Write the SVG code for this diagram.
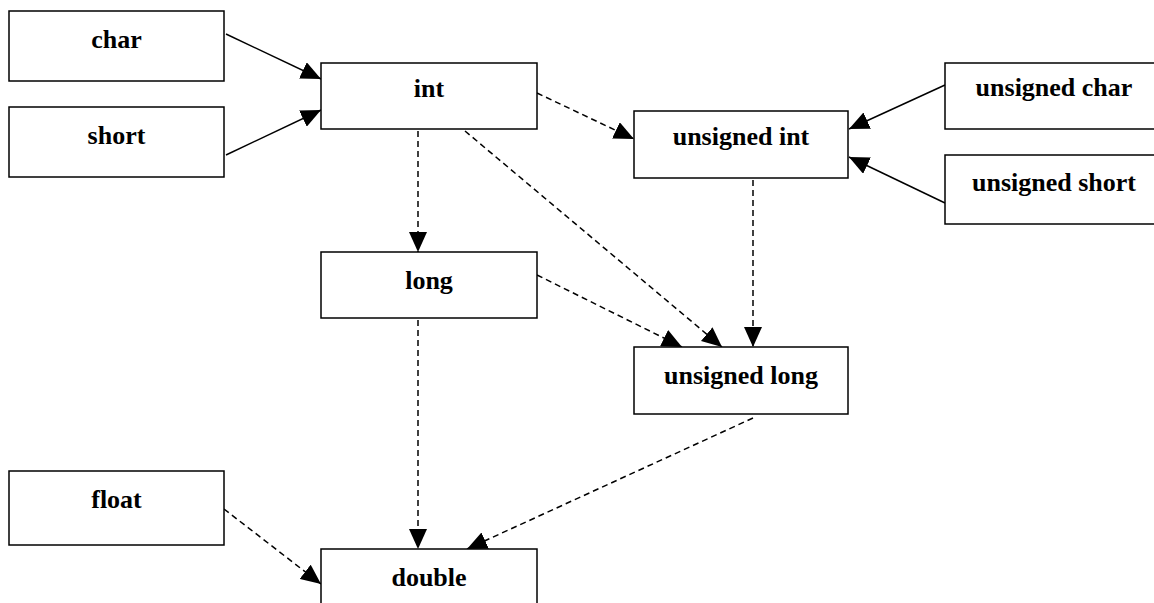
<svg xmlns="http://www.w3.org/2000/svg" width="1154" height="603" viewBox="0 0 1154 603">
<style>
.box{fill:#fff;stroke:#000;stroke-width:1.5}
.t{font-family:"Liberation Serif","Times New Roman",serif;font-weight:bold;font-size:26px;text-anchor:middle;fill:#000}
.s{stroke:#000;stroke-width:1.5;fill:none;marker-end:url(#ah)}
.d{stroke:#000;stroke-width:1.5;fill:none;stroke-dasharray:6 4;marker-end:url(#ah)}
</style>
<defs>
<marker id="ah" viewBox="0 0 20 18" refX="20" refY="9" markerWidth="20" markerHeight="18" markerUnits="userSpaceOnUse" orient="auto">
<path d="M0,0 L20,9 L0,18 Z" fill="#000"/>
</marker>
</defs>
<rect width="1154" height="603" fill="#fff"/>
<g id="connectors">
<line class="s" x1="226" y1="34" x2="321" y2="79"/>
<line class="s" x1="226" y1="155" x2="321" y2="110"/>
<line class="d" x1="537" y1="93" x2="634" y2="139"/>
<line class="s" x1="945" y1="85" x2="849" y2="129"/>
<line class="s" x1="945" y1="203" x2="849" y2="157"/>
<line class="d" x1="418" y1="131" x2="418" y2="252"/>
<line class="d" x1="465" y1="131" x2="722" y2="347"/>
<line class="d" x1="753" y1="180" x2="753" y2="347"/>
<line class="d" x1="537" y1="275" x2="682" y2="347"/>
<line class="d" x1="418" y1="320" x2="418" y2="549"/>
<line class="d" x1="753" y1="418" x2="467" y2="549"/>
<line class="d" x1="224" y1="509" x2="321" y2="584"/>
</g>
<g id="char"><rect class="box" x="9" y="11" width="215" height="70"/><text class="t" x="116.5" y="48">char</text></g>
<g id="short"><rect class="box" x="9" y="107" width="215" height="70"/><text class="t" x="116.5" y="144">short</text></g>
<g id="int"><rect class="box" x="321" y="63" width="216" height="66"/><text class="t" x="429" y="97">int</text></g>
<g id="unsigned-int"><rect class="box" x="634" y="111" width="214" height="67"/><text class="t" x="741" y="145">unsigned int</text></g>
<g id="unsigned-char"><rect class="box" x="945" y="63" width="215" height="66"/><text class="t" x="1054" y="96">unsigned char</text></g>
<g id="unsigned-short"><rect class="box" x="945" y="155" width="215" height="69"/><text class="t" x="1054" y="191">unsigned short</text></g>
<g id="long"><rect class="box" x="321" y="252" width="216" height="66"/><text class="t" x="429" y="289">long</text></g>
<g id="unsigned-long"><rect class="box" x="634" y="347" width="214" height="67"/><text class="t" x="741" y="384">unsigned long</text></g>
<g id="float"><rect class="box" x="9" y="471" width="215" height="74"/><text class="t" x="116.5" y="508">float</text></g>
<g id="double"><rect class="box" x="321" y="549" width="216" height="70"/><text class="t" x="429" y="586">double</text></g>
</svg>
